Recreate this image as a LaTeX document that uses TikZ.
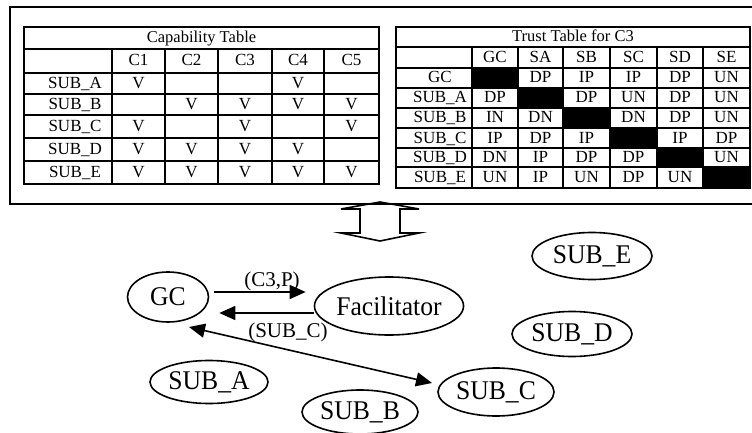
\documentclass[tikz,border=0pt]{standalone}
\usepackage{fontspec}
\setmainfont{Liberation Serif}
\newfontfamily\ellfont[FakeStretch=0.95]{Liberation Serif}
\usetikzlibrary{arrows.meta,shapes.geometric}
\begin{document}
\begin{tikzpicture}[x=1pt,y=-1pt,
  grid/.style={line width=1.3pt},
  thickgrid/.style={line width=2.6pt},
  frame/.style={line width=2pt},
  cell/.style={inner sep=0pt, anchor=base, yshift=-5pt, font=\fontsize{17}{17}\selectfont},
  ttl/.style={inner sep=0pt, anchor=base, yshift=-5pt, font=\fontsize{16.5}{16.5}\selectfont},
  ell/.style={draw, ellipse, line width=1.6pt, inner sep=0pt, font=\ellfont\fontsize{27}{27}\selectfont},
  arr/.style={line width=1.6pt, -{Triangle[length=16pt,width=14pt]}},
  darr/.style={line width=1.6pt, {Triangle[length=16pt,width=14pt]}-{Triangle[length=16pt,width=14pt]}},
  elab/.style={inner sep=0pt, font=\fontsize{21}{21}\selectfont}]
\useasboundingbox (0,0) rectangle (752,433);

% double arrow between tables and agents
\draw[line width=1.6pt, fill=white, line join=miter]
  (380,202) -- (419,209) -- (400,209) -- (400,233) -- (419,233) -- (380,241)
  -- (341,233) -- (360,233) -- (360,209) -- (341,209) -- cycle;

% outer frame
\draw[frame] (10,7) rectangle (755,204);

% ---------- Capability table ----------
\foreach \y in {49,73,94,115,138,161} \draw[grid] (24,\y) -- (379,\y);
\foreach \x in {112,165,218,272,324} \draw[grid] (\x,49) -- (\x,184);
\draw[thickgrid] (165,73) -- (165,94);
\draw[thickgrid] (218,94) -- (218,115);
\draw[thickgrid] (272,138) -- (272,115) -- (324,115);
\draw[thickgrid] (324,161) -- (324,138) -- (379,138);
\draw[frame] (24,27) rectangle (379,184);
\node[ttl] (captitle) at (201.5,38) {Capability Table};
\foreach \cx/\t [count=\i] in {138.5/C1,191.5/C2,245/C3,298/C4,351.5/C5}
  \node[cell] (caph\i) at (\cx,61) {\t};
\foreach \ry/\t [count=\i] in {83.5/SUB\_A,104.5/SUB\_B,126.5/SUB\_C,149.5/SUB\_D,172.5/SUB\_E}
  \node[cell] (capr\i) at (75,\ry) {\t};
\foreach \cx/\ry [count=\i] in {138.5/83.5,298/83.5,
   191.5/104.5,245/104.5,298/104.5,351.5/104.5,
   138.5/126.5,245/126.5,351.5/126.5,
   138.5/149.5,191.5/149.5,245/149.5,298/149.5,
   138.5/172.5,191.5/172.5,245/172.5,298/172.5,351.5/172.5}
  \node[cell] (capv\i) at (\cx,\ry) {V};

% ---------- Trust table ----------
\fill (472,68) rectangle (518,88);
\fill (518,88) rectangle (563,108);
\fill (563,108) rectangle (610,128);
\fill (610,128) rectangle (657,148);
\fill (657,148) rectangle (703,167);
\fill (703,167) rectangle (750,188);
\foreach \y in {47,68,88,108,128,148,167} \draw[grid] (396,\y) -- (750,\y);
\foreach \x in {472,518,563,610,657,703} \draw[grid] (\x,47) -- (\x,188);
\draw[frame] (396,27) rectangle (750,188);
\node[ttl] (trusttitle) at (573,37) {Trust Table for C3};
\foreach \cx/\t [count=\i] in {495/GC,540.5/SA,586.5/SB,633.5/SC,680/SD,726.5/SE}
  \node[cell] (trh\i) at (\cx,57.5) {\t};
\foreach \ry/\t [count=\i] in {78/GC,98/SUB\_A,118/SUB\_B,138/SUB\_C,157.5/SUB\_D,177.5/SUB\_E}
  \node[cell] (trr\i) at (440,\ry) {\t};
\foreach \cx/\ry/\t [count=\i] in {
   540.5/78/DP,586.5/78/IP,633.5/78/IP,680/78/DP,726.5/78/UN,
   495/98/DP,586.5/98/DP,633.5/98/UN,680/98/DP,726.5/98/UN,
   495/118/IN,540.5/118/DN,633.5/118/DN,680/118/DP,726.5/118/UN,
   495/138/IP,540.5/138/DP,586.5/138/IP,680/138/IP,726.5/138/DP,
   495/157.5/DN,540.5/157.5/IP,586.5/157.5/DP,633.5/157.5/DP,726.5/157.5/UN,
   495/177.5/UN,540.5/177.5/IP,586.5/177.5/UN,633.5/177.5/DP,680/177.5/UN}
  \node[cell] (trv\i) at (\cx,\ry) {\t};

% ---------- Agents ----------
\node[ell, minimum width=81pt, minimum height=50pt] (gc) at (168,297) {GC};
\node[ell, minimum width=134pt, minimum height=58pt] (fac) at (389,306) {Facilitator};
\node[ell, minimum width=118pt, minimum height=43pt] (suba) at (209,382) {SUB\_A};
\node[ell, minimum width=116pt, minimum height=44pt] (subb) at (360,412) {SUB\_B};
\node[ell, minimum width=116pt, minimum height=48pt] (subc) at (496,392) {SUB\_C};
\node[ell, minimum width=120pt, minimum height=45pt] (subd) at (572,334) {SUB\_D};
\node[ell, minimum width=120pt, minimum height=47pt] (sube) at (592,256) {SUB\_E};

\draw[arr] ([xshift=5pt,yshift=5pt]gc.east) -- ([xshift=-8pt,yshift=14pt]fac.west);
\draw[arr] ([yshift=-7pt]fac.west) -- ([xshift=10pt,yshift=-16pt]gc.east);
\draw[darr] ([xshift=21pt,yshift=-30pt]gc.center) -- ([xshift=-64pt,yshift=9pt]subc.center);

\node[elab] (lab1) at (272,281) {(C3,P)};
\node[elab] (lab2) at (288,332) {(SUB\_C)};
\end{tikzpicture}
\end{document}
